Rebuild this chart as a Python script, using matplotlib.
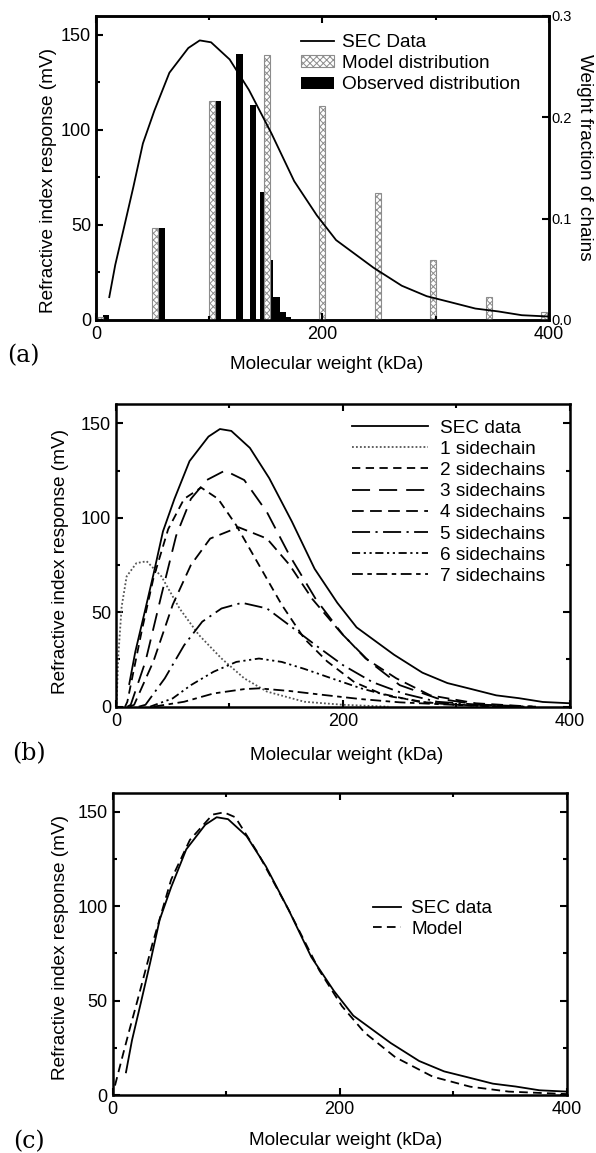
import matplotlib
matplotlib.use("Agg")
import matplotlib.pyplot as plt
from matplotlib.ticker import MultipleLocator, FormatStrFormatter
from matplotlib.patches import Patch
from matplotlib.lines import Line2D

plt.rcParams["font.family"] = ["Liberation Sans", "DejaVu Sans"]
plt.rcParams["hatch.linewidth"] = 0.7

# SEC trace (same measurement shown in all three panels)
sec_mw = [11.7, 17, 24.7, 33, 41.4, 51.5, 64.8, 81.5, 91.6, 101.6, 118, 135, 155,
          175, 195, 212, 245, 270, 292, 312, 335, 355, 376, 400]
sec_ri = [12, 29, 48.6, 70, 92.8, 110, 130, 143, 147, 146, 137, 121, 98,
          73, 55, 42, 27.5, 18, 12.5, 9.5, 6, 4.5, 2.5, 1.8]

# (a) weight fraction of chains
model_mw = [3.1, 52.5, 102.1, 150.7, 199.3, 248.6, 297.5, 346.8, 395.2]
model_wf = [0.003, 0.0906, 0.2155, 0.2616, 0.211, 0.1256, 0.0593, 0.0231, 0.0075]
obs_mw = [8.7, 58, 107.2, 126.7, 138.7, 147.2, 153.4, 159.3, 164.6, 169.3]
obs_wf = [0.0049, 0.0906, 0.2155, 0.2621, 0.2115, 0.1264, 0.0593, 0.0231, 0.0083, 0.0026]

# (b) contributions by number of sidechains
sc1_mw = [0.5, 2, 5, 9.4, 18, 27, 40, 56, 73, 93, 113, 133, 166, 200, 240]
sc1_ri = [1.5, 26.5, 53, 69, 76, 77, 69, 52, 38, 25.5, 15, 8, 2.6, 1, 0]
sc2_mw = [8, 10, 23, 33, 46, 60, 75, 90, 106, 126, 146, 166, 186, 210, 233, 267, 300, 340]
sc2_ri = [0, 2.6, 41, 68, 94, 110, 116, 110, 96, 75, 54, 36, 24, 13, 7, 2.6, 1, 0]
sc3_mw = [10, 13, 26, 40, 53, 66, 80, 96, 113, 133, 153, 176, 200, 223, 250, 283, 317, 367]
sc3_ri = [0, 1, 24, 59, 90.5, 110, 120, 125, 120, 103, 80, 57, 38, 24, 11.4, 4.4, 1.2, 0]
sc4_mw = [12, 16, 33, 50, 66, 83, 108, 133, 153, 173, 197, 220, 247, 277, 317, 367]
sc4_ri = [0, 1, 24, 54, 75, 89, 95, 89, 75, 57, 40, 25.5, 15, 6, 1.8, 0]
sc5_mw = [20, 26, 43, 60, 76, 93, 111, 133, 153, 176, 200, 226, 253, 283, 333, 370]
sc5_ri = [0, 1, 15, 32.5, 45, 52, 55, 52, 43, 32.5, 22, 13, 7, 2.6, 0.5, 0]
sc6_mw = [30, 50, 66, 86, 106, 126, 146, 166, 190, 216, 243, 273, 317, 360]
sc6_ri = [0, 4.4, 11.4, 18.5, 23.7, 25.5, 23.7, 20, 15, 9.7, 5.3, 2.3, 0.5, 0]
sc7_mw = [33, 60, 86, 113, 126, 153, 183, 216, 250, 300, 350]
sc7_ri = [0, 2.6, 7, 9.3, 9.7, 8.3, 6.2, 4, 2.3, 0.9, 0]

# (c) model fit
fit_mw = [2, 9.3, 15, 21.8, 35, 51.5, 68, 88, 98, 108, 128, 155, 182, 202, 222,
          249, 282, 315, 349, 400]
fit_ri = [5, 22, 35, 50, 80, 114, 135, 148.4, 149.6, 147, 128, 98, 66, 47, 33,
          20, 9.7, 4.4, 1.8, 0.5]

FS = 13.7
TICK_FS = 13


def style(ax, right=True):
    for s in ax.spines.values():
        s.set_linewidth(1.8)
    ax.set_xlim(0, 400)
    ax.set_ylim(0, 160)
    ax.xaxis.set_major_locator(MultipleLocator(200))
    ax.xaxis.set_minor_locator(MultipleLocator(100))
    ax.yaxis.set_major_locator(MultipleLocator(50))
    ax.yaxis.set_minor_locator(MultipleLocator(25))
    ax.tick_params(which="both", direction="in", top=True, right=right,
                   width=1.5, labelsize=TICK_FS)
    ax.tick_params(which="major", length=5)
    ax.tick_params(which="minor", length=3)
    ax.tick_params(axis="x", pad=4.5)
    ax.set_ylabel("Refractive index response (mV)", fontsize=FS, va="center")
    ax.set_xlabel("Molecular weight (kDa)", fontsize=FS, va="center")


fig = plt.figure(figsize=(5.96, 11.53), dpi=100)
ax_a = fig.add_axes([0.1611, 0.7225, 0.7600, 0.2639])
ax_b = fig.add_axes([0.1946, 0.3871, 0.7617, 0.2621])
ax_c = fig.add_axes([0.1891, 0.0503, 0.7617, 0.2622])

# ---- (a)
style(ax_a, right=False)
ax2 = ax_a.twinx()
ax2.set_ylim(0, 0.3)
ax2.yaxis.set_major_locator(MultipleLocator(0.1))
ax2.yaxis.set_major_formatter(FormatStrFormatter("%.1f"))
ax2.tick_params(direction="in", width=1.5, length=5, labelsize=10.5, pad=2)
for s in ax2.spines.values():
    s.set_linewidth(1.8)
ax2.bar(obs_mw, obs_wf, width=5.5, color="black", zorder=2)
ax2.bar(model_mw, model_wf, width=5.3, facecolor="white", edgecolor="#8c8c8c",
        hatch="xxxxx", linewidth=0.8, zorder=3)
ax2.set_ylabel("Weight fraction of chains", fontsize=FS, rotation=270,
               va="center", ha="center")
ax2.yaxis.set_label_coords(1.078, 0.535)
ax_a.set_zorder(ax2.get_zorder() + 1)
ax_a.patch.set_visible(False)
ax_a.plot(sec_mw, sec_ri, color="black", lw=1.3)
ax_a.yaxis.set_label_coords(-0.104, 0.457)
ax_a.xaxis.set_label_coords(0.51, -0.145)
h_a = [Line2D([], [], color="black", lw=1.3),
       Patch(facecolor="white", edgecolor="#8c8c8c", hatch="xxxxx", lw=0.8),
       Patch(facecolor="black")]
ax_a.legend(h_a, ["SEC Data", "Model distribution", "Observed distribution"],
            loc="upper left", bbox_to_anchor=(0.4517, 0.94), frameon=False,
            borderpad=0, borderaxespad=0, handlelength=1.75, handleheight=0.6,
            handletextpad=0.45, labelspacing=0.22, fontsize=FS)

# ---- (b)
style(ax_b)
ax_b.plot(sec_mw, sec_ri, color="black", lw=1.3, label="SEC data")
ax_b.plot(sc1_mw, sc1_ri, color="#555555", lw=1.3, ls=(0, (1, 1.2)), label="1 sidechain")
ax_b.plot(sc2_mw, sc2_ri, color="black", lw=1.3, ls=(0, (4.6, 3.0)), label="2 sidechains")
ax_b.plot(sc3_mw, sc3_ri, color="black", lw=1.3, ls=(0, (10, 5)), label="3 sidechains")
ax_b.plot(sc4_mw, sc4_ri, color="black", lw=1.3, ls=(0, (6.5, 3.5)), label="4 sidechains")
ax_b.plot(sc5_mw, sc5_ri, color="black", lw=1.3, ls=(0, (10, 3, 1.2, 3)), label="5 sidechains")
ax_b.plot(sc6_mw, sc6_ri, color="black", lw=1.3, ls=(0, (4.5, 2, 1.2, 2, 1.2, 2)),
          label="6 sidechains")
ax_b.plot(sc7_mw, sc7_ri, color="black", lw=1.3, ls=(0, (6, 2.5, 2.5, 2.5)), label="7 sidechains")
ax_b.yaxis.set_label_coords(-0.123, 0.482)
ax_b.xaxis.set_label_coords(0.509, -0.16)
ax_b.legend(loc="upper left", bbox_to_anchor=(0.52, 0.95), frameon=False,
            borderpad=0, borderaxespad=0, handlelength=4.0, handletextpad=0.6,
            labelspacing=0.2, fontsize=FS)

# ---- (c)
style(ax_c)
ax_c.plot(sec_mw, sec_ri, color="black", lw=1.3, label="SEC data")
ax_c.plot(fit_mw, fit_ri, color="black", lw=1.3, ls=(0, (4.8, 2.9)), label="Model")
ax_c.yaxis.set_label_coords(-0.116, 0.487)
ax_c.xaxis.set_label_coords(0.512, -0.152)
ax_c.legend(loc="upper left", bbox_to_anchor=(0.574, 0.645), frameon=False,
            borderpad=0, borderaxespad=0, handlelength=1.45, handletextpad=0.55,
            labelspacing=0.15, fontsize=FS)

# panel letters
for txt, x, y in [("(a)", 23, 356), ("(b)", 29, 754), ("(c)", 29, 1142)]:
    fig.text(x / 596, 1 - y / 1153, txt, family="DejaVu Serif", fontsize=17,
             ha="center", va="center")

fig.savefig("out.png", dpi=100)
